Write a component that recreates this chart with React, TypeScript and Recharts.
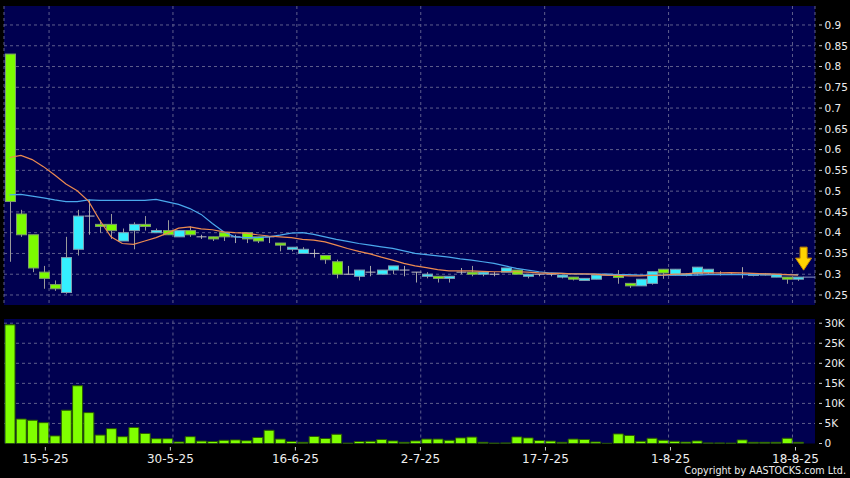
import {
  ComposedChart,
  Bar,
  Line,
  XAxis,
  YAxis,
  CartesianGrid,
  ReferenceLine,
  ReferenceDot,
} from "recharts";

// daily candles, oldest first
const opens = [
  0.83, 0.445, 0.395, 0.305, 0.275, 0.256, 0.36, 0.44, 0.42, 0.42,
  0.38, 0.405, 0.42, 0.40, 0.405, 0.39, 0.405, 0.39, 0.39, 0.40,
  0.39, 0.40, 0.39, 0.39, 0.375, 0.36, 0.35, 0.35, 0.345, 0.33,
  0.30, 0.295, 0.305, 0.30, 0.31, 0.31, 0.305, 0.295, 0.295, 0.29,
  0.305, 0.305, 0.30, 0.30, 0.305, 0.31, 0.295, 0.30, 0.30, 0.293,
  0.293, 0.285, 0.288, 0.298, 0.297, 0.278, 0.272, 0.278, 0.312, 0.298,
  0.297, 0.301, 0.303, 0.30, 0.30, 0.30, 0.297, 0.298, 0.293, 0.293,
  0.288,
];
const highs = [
  0.83, 0.455, 0.395, 0.32, 0.285, 0.39, 0.455, 0.48, 0.43, 0.445,
  0.41, 0.425, 0.44, 0.41, 0.43, 0.405, 0.415, 0.395, 0.39, 0.40,
  0.395, 0.40, 0.39, 0.39, 0.375, 0.365, 0.365, 0.36, 0.345, 0.335,
  0.32, 0.31, 0.32, 0.31, 0.32, 0.32, 0.305, 0.305, 0.295, 0.295,
  0.315, 0.32, 0.305, 0.305, 0.315, 0.31, 0.30, 0.30, 0.30, 0.298,
  0.293, 0.29, 0.298, 0.30, 0.31, 0.278, 0.288, 0.306, 0.312, 0.312,
  0.303, 0.317, 0.312, 0.307, 0.302, 0.317, 0.301, 0.303, 0.30, 0.293,
  0.293,
];
const lows = [
  0.33, 0.39, 0.305, 0.265, 0.26, 0.253, 0.345, 0.395, 0.40, 0.385,
  0.38, 0.36, 0.405, 0.40, 0.395, 0.39, 0.39, 0.385, 0.38, 0.38,
  0.375, 0.375, 0.375, 0.375, 0.355, 0.355, 0.35, 0.34, 0.325, 0.29,
  0.30, 0.285, 0.295, 0.30, 0.30, 0.295, 0.28, 0.29, 0.28, 0.28,
  0.30, 0.295, 0.295, 0.295, 0.305, 0.30, 0.29, 0.295, 0.295, 0.29,
  0.285, 0.285, 0.288, 0.298, 0.277, 0.267, 0.272, 0.275, 0.289, 0.297,
  0.295, 0.297, 0.30, 0.297, 0.298, 0.29, 0.295, 0.297, 0.293, 0.277,
  0.284,
];
const closes = [
  0.475, 0.395, 0.315, 0.29, 0.265, 0.34, 0.44, 0.44, 0.415, 0.405,
  0.40, 0.42, 0.415, 0.405, 0.395, 0.405, 0.395, 0.39, 0.385, 0.39,
  0.39, 0.385, 0.38, 0.39, 0.37, 0.365, 0.36, 0.35, 0.335, 0.30,
  0.30, 0.31, 0.305, 0.31, 0.32, 0.31, 0.305, 0.30, 0.29, 0.295,
  0.305, 0.30, 0.305, 0.30, 0.315, 0.30, 0.30, 0.30, 0.30, 0.298,
  0.288, 0.29, 0.298, 0.30, 0.292, 0.272, 0.288, 0.306, 0.303, 0.312,
  0.301, 0.317, 0.312, 0.30, 0.30, 0.30, 0.301, 0.301, 0.30, 0.288,
  0.293,
];
// moving averages as drawn (orange = short, blue = long)
const maShort = [
  0.581, 0.586, 0.576, 0.559, 0.539, 0.517, 0.501, 0.476, 0.43, 0.39,
  0.374, 0.372, 0.38, 0.388, 0.399, 0.411, 0.414, 0.409, 0.407, 0.402,
  0.40, 0.399, 0.395, 0.392, 0.39, 0.388, 0.384, 0.382, 0.378, 0.37,
  0.362, 0.355, 0.349, 0.341, 0.334, 0.326, 0.32, 0.316, 0.311, 0.308,
  0.308, 0.308, 0.307, 0.306, 0.306, 0.306, 0.305, 0.303, 0.302, 0.302,
  0.301, 0.301, 0.30, 0.298, 0.297, 0.296, 0.296, 0.297, 0.298, 0.30,
  0.301, 0.303, 0.303, 0.303, 0.304, 0.303, 0.302, 0.301, 0.30, 0.299,
  0.298,
];
const maLong = [
  0.491, 0.492, 0.488, 0.484, 0.479, 0.475, 0.475, 0.479, 0.478, 0.478,
  0.478, 0.478, 0.478, 0.48, 0.474, 0.468, 0.458, 0.444, 0.422, 0.402,
  0.39, 0.388, 0.388, 0.39, 0.394, 0.399, 0.40, 0.396, 0.39, 0.384,
  0.379, 0.374, 0.37, 0.366, 0.362, 0.356, 0.35, 0.347, 0.344, 0.341,
  0.337, 0.334, 0.33, 0.326, 0.32, 0.314, 0.31, 0.306, 0.303, 0.302,
  0.301, 0.30, 0.30, 0.30, 0.299, 0.299, 0.298, 0.298, 0.298, 0.298,
  0.298, 0.298, 0.299, 0.299, 0.299, 0.299, 0.299, 0.299, 0.299, 0.299,
  0.299,
];
const volumes = [
  29600, 6100, 5800, 5200, 1900, 8300, 14400, 7700, 2100, 3700,
  1700, 4000, 2500, 1200, 1200, 400, 1700, 600, 500, 800,
  900, 700, 1500, 3300, 1100, 500, 300, 1750, 1250, 2300,
  100, 500, 550, 1000, 650, 300, 650, 1100, 1100, 800,
  1400, 1600, 300, 100, 150, 1650, 1400, 750, 600, 300,
  1100, 1000, 400, 50, 2400, 2000, 550, 1300, 800, 550,
  350, 650, 150, 150, 100, 900, 300, 300, 300, 1300,
  300,
];

const xLabels = ["15-5-25", "30-5-25", "16-6-25", "2-7-25", "17-7-25", "1-8-25", "18-8-25"];
const priceTicks = [0.25, 0.3, 0.35, 0.4, 0.45, 0.5, 0.55, 0.6, 0.65, 0.7, 0.75, 0.8, 0.85, 0.9];
const volumeTicks = [0, 5000, 10000, 15000, 20000, 25000, 30000];

const NAVY = "#000050";
const GRID = "#5e5e8c";
const GREEN = "#7CFC00";
const CYAN = "#35F0FF";
const TEXT = "#eeeeee";
const FONT = "DejaVu Sans, Verdana, sans-serif";

const N = opens.length;
const xDomain = [-0.5, N + 0.5];
// grid lines sit between sessions, 11 sessions apart; labels drift slightly
const gridTicks = xLabels.map((_, k) => 3.5 + 11 * k);
const labelTicks = xLabels.map((_, k) => 3.17 + 11.1 * k);

const priceData = opens.map((o, i) => ({
  i,
  open: o,
  high: highs[i],
  low: lows[i],
  close: closes[i],
  range: [lows[i], highs[i]],
  maShort: maShort[i],
  maLong: maLong[i],
}));
const volumeData = volumes.map((v, i) => ({ i, vol: v }));

const Candle = (props: any) => {
  const { x, y, width, height, payload } = props;
  if (!payload) return null;
  const { open, close, high, low } = payload;
  const top = Math.min(y, y + height);
  const bottom = Math.max(y, y + height);
  const k = high === low ? 0 : (bottom - top) / (high - low);
  const yOf = (v: number) => top + (high - v) * k;
  const cx = Math.round(x + width / 2) + 0.5;
  const yo = yOf(open);
  const yc = yOf(close);
  if (open === close) {
    return (
      <g>
        <line x1={cx} x2={cx} y1={top} y2={bottom} stroke="#a8a8a8" />
        <line x1={cx - 5} x2={cx + 5} y1={yo} y2={yo} stroke="#c0c0c0" />
      </g>
    );
  }
  const up = close > open;
  return (
    <g>
      <line x1={cx} x2={cx} y1={top} y2={bottom} stroke="#9a9a9a" />
      <rect
        x={cx - 5}
        y={Math.min(yo, yc)}
        width={10}
        height={Math.max(Math.abs(yo - yc), 1)}
        fill={up ? CYAN : GREEN}
        stroke={up ? "#7f9fb0" : "#7f9f6a"}
        strokeWidth={1}
      />
    </g>
  );
};

const Arrow = (props: any) => {
  const { cx, cy } = props;
  if (cx == null) return null;
  const ax = cx + 5.5;
  const tip = cy - 7;
  const d = `M${ax - 3.5},${tip - 23} h7 v11 h4.5 L${ax},${tip} L${ax - 8},${tip - 12} h4.5 Z`;
  return <path d={d} fill="#FFD400" stroke="#C88A00" strokeWidth={1} />;
};

const RightTick = ({ x, y, payload, fmt }: any) => (
  <g>
    <line x1={x + 4} x2={x + 7} y1={y} y2={y} stroke="#cccccc" />
    <text x={x + 9.5} y={y} dy={3.8} fill={TEXT} fontSize={10.5} fontFamily={FONT}>
      {fmt(payload.value)}
    </text>
  </g>
);

// labels hang from the bottom edge of the volume plot
const DateTick = ({ x, payload, index, axisTop }: any) => (
  <g>
    <line x1={x} x2={x} y1={axisTop + 3.5} y2={axisTop + 7} stroke="#cccccc" />
    <text x={x} y={axisTop + 19} textAnchor="middle" fill={TEXT} fontSize={12} fontFamily={FONT}>
      {xLabels[index] ?? payload.value}
    </text>
  </g>
);

const fmtPrice = (v: number) => String(v);
const fmtVol = (v: number) => (v === 0 ? "0" : `${v / 1000}K`);

const VOL_H = 168;
const VOL_TOP = 9;
const VOL_AXIS_H = 34.5;

export default function App() {
  return (
    <div
      style={{
        position: "absolute",
        left: 0,
        top: 0,
        width: 850,
        height: 478,
        background: "#000",
        overflow: "hidden",
      }}
    >
      <div style={{ position: "absolute", left: 0, top: 0 }}>
        <ComposedChart
          width={850}
          height={310}
          data={priceData}
          margin={{ top: 6, right: 0, bottom: 5, left: 4 }}
        >
          <CartesianGrid
            fill={NAVY}
            stroke={GRID}
            strokeDasharray="3 3"
            horizontalValues={priceTicks}
          />
          <XAxis
            dataKey="i"
            type="number"
            domain={xDomain}
            ticks={gridTicks}
            hide
            allowDataOverflow
          />
          <YAxis
            orientation="right"
            width={35}
            domain={[0.2259, 0.9457]}
            ticks={priceTicks}
            interval={0}
            allowDataOverflow
            axisLine={false}
            tickLine={false}
            tickSize={0}
            tickMargin={0}
            tick={<RightTick fmt={fmtPrice} />}
          />
          <Bar
            dataKey="range"
            barSize={10}
            shape={<Candle />}
            isAnimationActive={false}
          />
          <Line
            dataKey="maLong"
            stroke="#4aa8ec"
            strokeWidth={1.2}
            dot={false}
            isAnimationActive={false}
          />
          <Line
            dataKey="maShort"
            stroke="#ec8a50"
            strokeWidth={1.2}
            dot={false}
            isAnimationActive={false}
          />
          <ReferenceLine
            segment={[
              { x: N - 1 + 0.45, y: closes[N - 1] },
              { x: N + 0.5, y: closes[N - 1] },
            ]}
            stroke="#8a96c0"
          />
          <ReferenceDot x={N - 1} y={highs[N - 1]} shape={<Arrow />} />
        </ComposedChart>
      </div>

      <div style={{ position: "absolute", left: 0, top: 310 }}>
        <ComposedChart
          width={850}
          height={VOL_H}
          data={volumeData}
          margin={{ top: VOL_TOP, right: 0, bottom: 0, left: 4 }}
        >
          <CartesianGrid
            fill={NAVY}
            stroke={GRID}
            strokeDasharray="3 3"
            vertical={false}
            horizontalValues={volumeTicks.slice(1)}
          />
          {gridTicks.map((t) => (
            <ReferenceLine key={t} x={t} stroke={GRID} strokeDasharray="3 3" />
          ))}
          <XAxis
            dataKey="i"
            type="number"
            domain={xDomain}
            ticks={labelTicks}
            interval={0}
            height={VOL_AXIS_H}
            allowDataOverflow
            axisLine={false}
            tickLine={false}
            tickSize={0}
            tickMargin={0}
            tick={<DateTick axisTop={VOL_H - VOL_AXIS_H} />}
          />
          <YAxis
            orientation="right"
            width={35}
            domain={[0, 31050]}
            ticks={volumeTicks}
            interval={0}
            allowDataOverflow
            axisLine={false}
            tickLine={false}
            tickSize={0}
            tickMargin={0}
            tick={<RightTick fmt={fmtVol} />}
          />
          <Bar
            dataKey="vol"
            barSize={10}
            fill="#80FF00"
            stroke="#2a5a00"
            strokeWidth={1}
            isAnimationActive={false}
          />
        </ComposedChart>
      </div>

      <div
        style={{
          position: "absolute",
          right: 4,
          top: 466,
          color: TEXT,
          fontSize: 9.6,
          lineHeight: "10px",
          fontFamily: FONT,
          whiteSpace: "nowrap",
        }}
      >
        Copyright by AASTOCKS.com Ltd.
      </div>
    </div>
  );
}
